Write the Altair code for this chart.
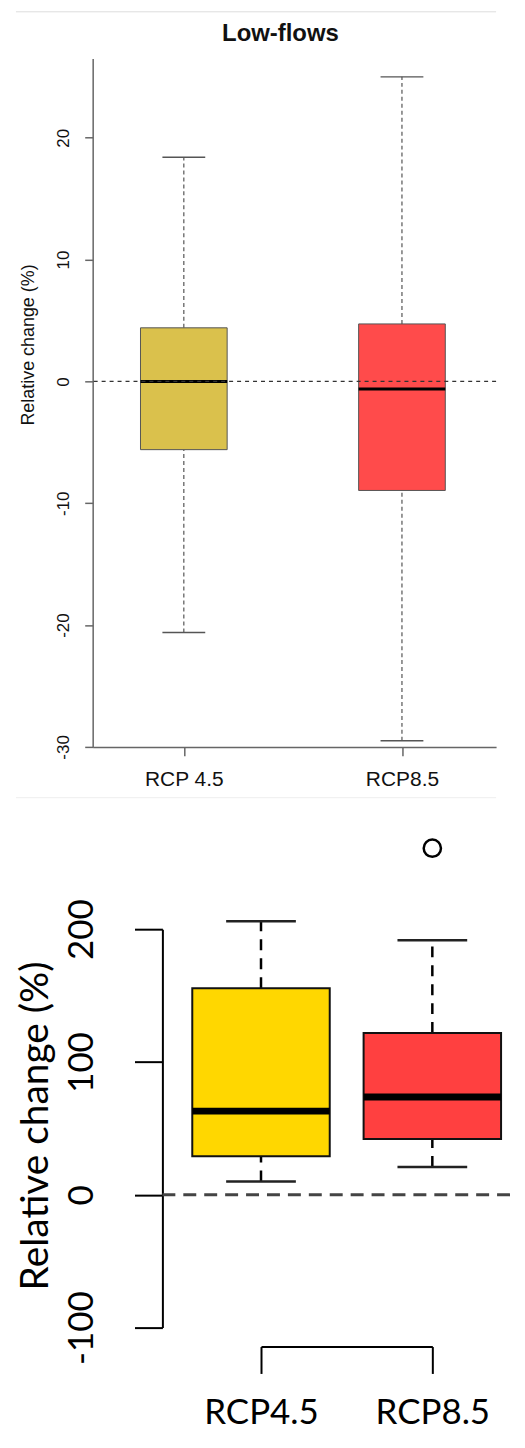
import altair as alt
import pandas as pd

# ---------------- data ----------------
top_title = "Low-flows"
top_scen = ["RCP 4.5", "RCP8.5"]
top_lower = [-20.6, -29.5]
top_q1 = [-5.6, -8.95]
top_median = [0.0, -0.63]
top_q3 = [4.4, 4.72]
top_upper = [18.4, 25.0]
top_colors = ["#DAC14C", "#FF4B4B"]
top_ticks = [-30, -20, -10, 0, 10, 20]

bot_scen = ["RCP4.5", "RCP8.5"]
bot_lower = [10, 21]
bot_q1 = [29, 42]
bot_median = [63, 73.7]
bot_q3 = [155.6, 121.8]
bot_upper = [206, 191.7]
bot_colors = ["#FFD700", "#FF4040"]
out_scen = ["RCP8.5"]
out_value = [261]
bot_ticks = [-100, 0, 100, 200]

top_df = pd.DataFrame(dict(scen=top_scen, lower=top_lower, q1=top_q1,
                           median=top_median, q3=top_q3, upper=top_upper))
bot_df = pd.DataFrame(dict(scen=bot_scen, lower=bot_lower, q1=bot_q1,
                           median=bot_median, q3=bot_q3, upper=bot_upper))
out_df = pd.DataFrame(dict(scen=out_scen, value=out_value))
zero_df = pd.DataFrame({"v": [0]})
one_df = pd.DataFrame({"a": [0]})
title_df = pd.DataFrame({"t": [top_title]})

# ---------------- top panel ----------------
W1, H1 = 405, 691
FT = "Liberation Sans"
xs1 = alt.Scale(type="point", domain=top_scen, padding=0.4247, align=0.492)
ys1 = alt.Scale(domain=[-30, 26.5], nice=False, zero=False)

ax_x1 = alt.Axis(labelAngle=0, tickSize=9, tickWidth=1.5, domainWidth=1.5,
                 domainColor="#666", tickColor="#666", labelFont=FT,
                 labelFontSize=21, labelColor="#111", labelPadding=13, title=None)
ax_y1 = alt.Axis(values=top_ticks, labelAngle=270, labelAlign="center",
                 labelBaseline="bottom", labelFont=FT, labelFontSize=17,
                 labelColor="#111", labelPadding=12, tickSize=8,
                 tickWidth=1.5, domainWidth=1.5, tickColor="#666",
                 domainColor="#666", grid=False, labelOverlap=False,
                 labelExpr="toString(datum.value)",
                 title="Relative change (%)", titleFont=FT,
                 titleFontSize=18, titleFontWeight="normal",
                 titleColor="#111", titleAngle=270, titleAlign="center",
                 titleBaseline="alphabetic", titleX=-59, titleY=287)

def X1():
    return alt.X("scen:N", scale=xs1, sort=top_scen, axis=ax_x1, title=None)

def Y1(field):
    return alt.Y(field, scale=ys1, axis=ax_y1, title="Relative change (%)")

t_wlo = alt.Chart(top_df).mark_rule(strokeDash=[4, 3], color="#555", strokeWidth=1.2).encode(
    x=X1(), y=Y1("lower:Q"), y2="q1:Q")
t_whi = alt.Chart(top_df).mark_rule(strokeDash=[4, 3], color="#555", strokeWidth=1.2).encode(
    x=X1(), y=Y1("q3:Q"), y2="upper:Q")
t_clo = alt.Chart(top_df).mark_tick(size=43, thickness=1.5, color="#555", opacity=1).encode(
    x=X1(), y=Y1("lower:Q"))
t_chi = alt.Chart(top_df).mark_tick(size=43, thickness=1.5, color="#555", opacity=1).encode(
    x=X1(), y=Y1("upper:Q"))
t_box = alt.Chart(top_df).mark_bar(size=87, stroke="#555", strokeWidth=1, opacity=1).encode(
    x=X1(), y=Y1("q1:Q"), y2="q3:Q",
    color=alt.Color("scen:N", scale=alt.Scale(domain=top_scen, range=top_colors), legend=None))
t_med = alt.Chart(top_df).mark_tick(size=87, thickness=3, color="black", opacity=1).encode(
    x=X1(), y=Y1("median:Q"))
t_zero = alt.Chart(zero_df).mark_rule(strokeDash=[4, 4], color="#333", strokeWidth=1.3).encode(
    y=Y1("v:Q"))
t_sep1 = alt.Chart(one_df).mark_rule(color="#DDDDDD", strokeWidth=1).encode(
    x=alt.value(-77), x2=alt.value(W1), y=alt.value(-47))
t_sep2 = alt.Chart(one_df).mark_rule(color="#EEEEEE", strokeWidth=1).encode(
    x=alt.value(-77), x2=alt.value(W1), y=alt.value(742))
t_title = alt.Chart(title_df).mark_text(font=FT, fontSize=24, fontWeight="bold",
                                        align="center", baseline="alphabetic",
                                        color="#111").encode(
    text="t:N", x=alt.value(W1 / 2 - 14), y=alt.value(-18))

top = alt.layer(t_wlo, t_whi, t_clo, t_chi, t_box, t_med, t_zero, t_sep1, t_sep2,
                t_title).properties(width=W1, height=H1)

# ---------------- bottom panel ----------------
W2, H2 = 424, 500
FB = "Lato"
xs2 = alt.Scale(type="point", domain=bot_scen, range=[169, 341], padding=0)
ys2 = alt.Scale(domain=[-100, 200], range=[500, 100], nice=False, zero=False)

ax_x2 = alt.Axis(labelAngle=0, offset=19, tickSize=27, tickWidth=2,
                 domainWidth=2, domainColor="black", tickColor="black",
                 labelFont=FB, labelFontSize=35, labelColor="black",
                 labelPadding=22, title=None)
ax_y2 = alt.Axis(values=bot_ticks, offset=-70, labelAngle=270,
                 labelAlign="center", labelBaseline="bottom", labelFont=FB,
                 labelFontSize=35, labelColor="black", labelPadding=35,
                 tickSize=28, tickWidth=2, domainWidth=2, tickColor="black",
                 domainColor="black", grid=False, labelOverlap=False,
                 labelExpr="toString(datum.value)",
                 title="Relative change (%)", titleFont=FB, titleFontSize=39,
                 titleFontWeight="normal", titleColor="black", titleAngle=270,
                 titleAlign="center", titleBaseline="alphabetic",
                 titleX=-115, titleY=297)

def X2():
    return alt.X("scen:N", scale=xs2, sort=bot_scen, axis=ax_x2, title=None)

def Y2(field):
    return alt.Y(field, scale=ys2, axis=ax_y2, title="Relative change (%)")

b_zero = alt.Chart(zero_df).mark_rule(strokeDash=[13, 8], color="#444", strokeWidth=3).encode(
    x=alt.value(70), x2=alt.value(W2), y=Y2("v:Q"))
b_wlo = alt.Chart(bot_df).mark_rule(strokeDash=[11, 8], color="black", strokeWidth=2.5).encode(
    x=X2(), y=Y2("lower:Q"), y2="q1:Q")
b_whi = alt.Chart(bot_df).mark_rule(strokeDash=[11, 8], color="black", strokeWidth=2.5).encode(
    x=X2(), y=Y2("q3:Q"), y2="upper:Q")
b_clo = alt.Chart(bot_df).mark_tick(size=70, thickness=2.5, color="#222", opacity=1).encode(
    x=X2(), y=Y2("lower:Q"))
b_chi = alt.Chart(bot_df).mark_tick(size=70, thickness=2.5, color="#222", opacity=1).encode(
    x=X2(), y=Y2("upper:Q"))
b_box = alt.Chart(bot_df).mark_bar(size=138, stroke="#111", strokeWidth=2, opacity=1).encode(
    x=X2(), y=Y2("q1:Q"), y2="q3:Q",
    color=alt.Color("scen:N", scale=alt.Scale(domain=bot_scen, range=bot_colors), legend=None))
b_med = alt.Chart(bot_df).mark_tick(size=138, thickness=7, color="black", opacity=1).encode(
    x=X2(), y=Y2("median:Q"))
b_out = alt.Chart(out_df).mark_point(shape="circle", size=300, filled=False, color="black",
                                     strokeWidth=2.5, opacity=1).encode(
    x=X2(), y=Y2("value:Q"))

bot = alt.layer(b_zero, b_wlo, b_whi, b_clo, b_chi, b_box, b_med, b_out).properties(
    width=W2, height=H2)

chart = alt.vconcat(top, bot, spacing=31).properties(
    padding={"left": 7, "top": 0, "right": 0, "bottom": 0},
    background="white",
).configure_view(stroke=None).resolve_scale(color="independent", x="independent", y="independent")

chart.save("out.html", embed_options={"renderer": "svg", "actions": False})
